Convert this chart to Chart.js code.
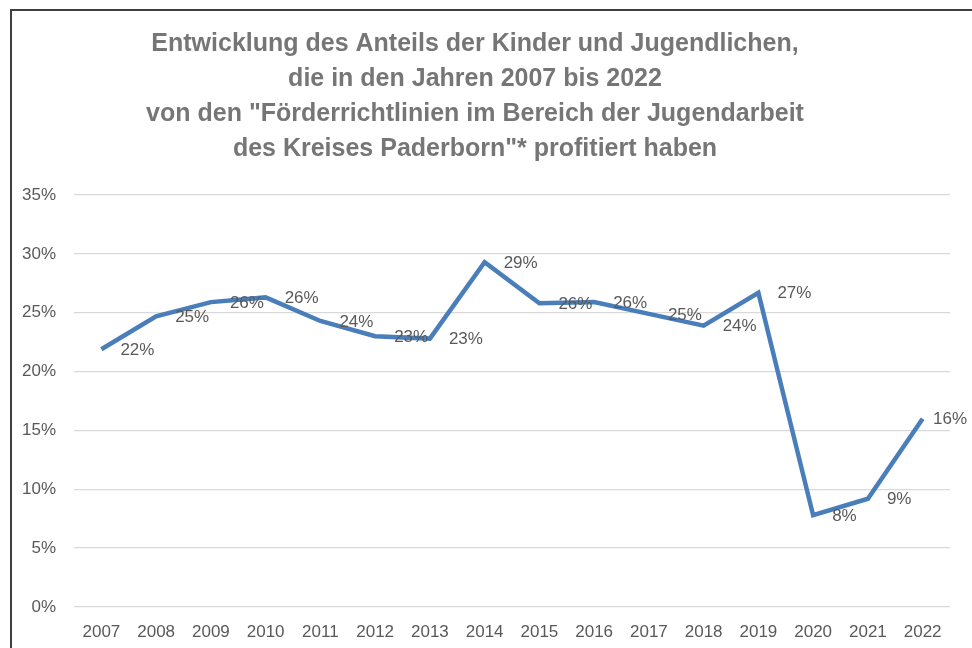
<!DOCTYPE html>
<html>
<head>
<meta charset="utf-8">
<script src="https://cdn.jsdelivr.net/npm/chart.js@4/dist/chart.umd.min.js"></script>
<style>
  html, body { margin: 0; padding: 0; background: #ffffff; overflow: hidden; width: 972px; height: 648px; }
  #wrap { position: absolute; left: 0; top: 0; width: 972px; height: 648px; }
  .bar { position: absolute; background: #3f3f3f; pointer-events: none; }
  #topbar { left: 10px; top: 9px; width: 962px; height: 2px; }
  #leftbar { left: 10px; top: 9px; width: 2px; height: 639px; }
</style>
</head>
<body>
<div id="wrap"><canvas id="c" width="972" height="648"></canvas></div>
<div class="bar" id="topbar"></div>
<div class="bar" id="leftbar"></div>
<script>
const titleLines = [
  'Entwicklung des Anteils der Kinder und Jugendlichen,',
  'die in den Jahren 2007 bis 2022',
  'von den "Förderrichtlinien im Bereich der Jugendarbeit',
  'des Kreises Paderborn"* profitiert haben'
];
const years = ['2007','2008','2009','2010','2011','2012','2013','2014','2015','2016','2017','2018','2019','2020','2021','2022'];
const shares = [21.9, 24.7, 25.9, 26.3, 24.3, 23.0, 22.8, 29.3, 25.8, 25.9, 24.9, 23.9, 26.7, 7.8, 9.2, 16.0];
const yTicks = [0, 5, 10, 15, 20, 25, 30, 35];

const FONT = '"Liberation Sans", Arial, sans-serif';

const valueLabels = {
  id: 'valueLabels',
  afterDatasetsDraw(chart) {
    const ctx = chart.ctx;
    const meta = chart.getDatasetMeta(0);
    ctx.save();
    ctx.font = '17px ' + FONT;
    ctx.fillStyle = '#595959';
    ctx.textAlign = 'left';
    ctx.textBaseline = 'middle';
    meta.data.forEach((pt, i) => {
      const txt = Math.round(chart.data.datasets[0].data[i]) + '%';
      const w = ctx.measureText(txt).width;
      let x = pt.x + 19;
      if (x + w > chart.width - 5) x = chart.width - 5 - w;
      ctx.fillText(txt, x, pt.y + 1);
    });
    ctx.restore();
  }
};

new Chart(document.getElementById('c'), {
  type: 'line',
  data: {
    labels: years,
    datasets: [{
      data: shares,
      borderColor: '#4a7ebb',
      backgroundColor: '#4a7ebb',
      borderWidth: 4.5,
      pointRadius: 0,
      tension: 0,
      fill: false
    }]
  },
  options: {
    responsive: false,
    animation: false,
    layout: { padding: { left: 0, right: 22, top: 0, bottom: 0 } },
    plugins: {
      legend: { display: false },
      tooltip: { enabled: false },
      title: {
        display: true,
        text: titleLines,
        color: '#767676',
        font: { family: FONT, size: 25, weight: 'bold', lineHeight: 35 / 25 },
        padding: { top: 27, bottom: 28 }
      }
    },
    scales: {
      x: {
        offset: true,
        grid: { display: false, drawTicks: false },
        border: { display: false },
        ticks: { color: '#595959', font: { family: FONT, size: 17 }, padding: 15, maxRotation: 0 },
        afterFit(scale) { scale.height = 41; }
      },
      y: {
        min: 0,
        max: 35,
        afterBuildTicks(scale) { scale.ticks = yTicks.map(v => ({ value: v })); },
        grid: { color: '#d9d9d9', lineWidth: 1.3, drawTicks: false },
        border: { display: false },
        ticks: {
          color: '#595959',
          font: { family: FONT, size: 17 },
          padding: 18,
          callback: v => v + '%'
        },
        afterFit(scale) { scale.width = 74; }
      }
    }
  },
  plugins: [valueLabels]
});
</script>
</body>
</html>
